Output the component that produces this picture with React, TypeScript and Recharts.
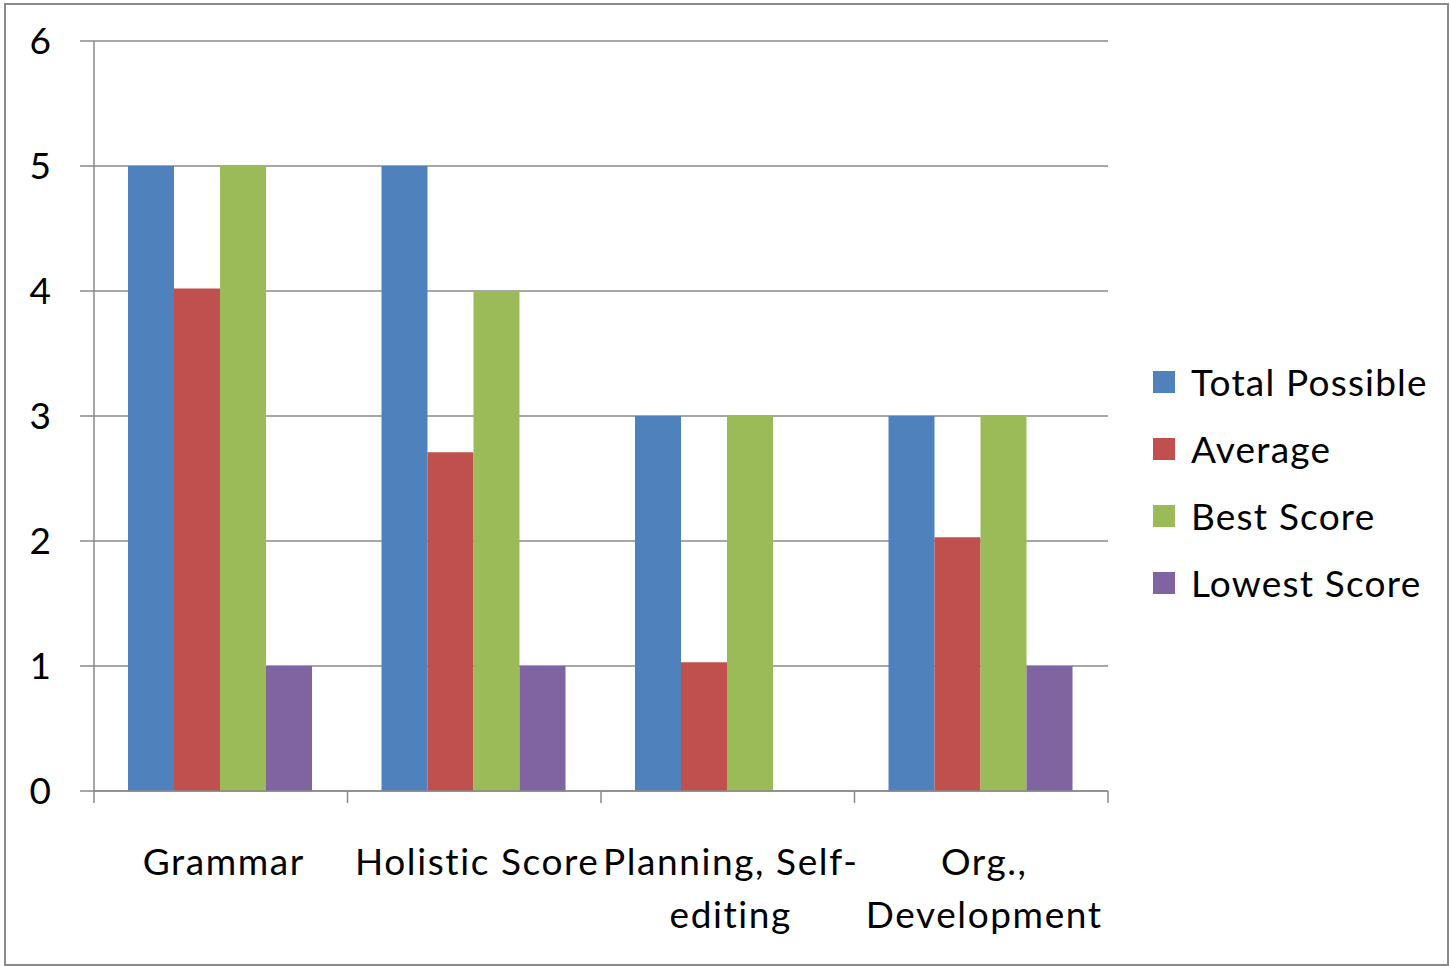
import React from 'react';
import { BarChart, Bar, XAxis, YAxis, CartesianGrid } from 'recharts';

// Data
const categories = ['Grammar', 'Holistic Score', 'Planning, Self-editing', 'Org., Development'];
const categoryLines = [['Grammar'], ['Holistic Score'], ['Planning, Self-', 'editing'], ['Org.,', 'Development']];
const totalPossible = [5, 5, 3, 3];
const average = [4.02, 2.71, 1.03, 2.03];
const bestScore = [5, 4, 3, 3];
const lowestScore = [1, 1, 0, 1];
const yTicks = [0, 1, 2, 3, 4, 5, 6];

const series = [
  { key: 'total', name: 'Total Possible', color: '#4F81BD' },
  { key: 'avg', name: 'Average', color: '#C0504D' },
  { key: 'best', name: 'Best Score', color: '#9BBB59' },
  { key: 'low', name: 'Lowest Score', color: '#8064A2' },
];

const data = categories.map((name, i) => ({
  name,
  total: totalPossible[i],
  avg: average[i],
  best: bestScore[i],
  low: lowestScore[i],
}));

const FONT = 'Lato, "Open Sans", sans-serif';
const GRID = '#8a8a8a';
const W = 1450;
const H = 966;
const margin = { top: 41, right: 342, bottom: 0, left: 0 };
const Y_W = 94;
const X_H = 175;
const band = (W - margin.right - Y_W) / categories.length;

const CategoryTick = (props: any) => {
  const { x, y, index } = props;
  const lines = categoryLines[index] || [];
  const left = x - band / 2;
  const right = x + band / 2;
  return (
    <g>
      <line x1={left} x2={left} y1={y - 12} y2={y} stroke={GRID} strokeWidth={1.5} />
      {index === categories.length - 1 && (
        <line x1={right} x2={right} y1={y - 12} y2={y} stroke={GRID} strokeWidth={1.5} />
      )}
      {lines.map((l, i) => (
        <text
          key={i}
          x={x + 3}
          y={y + 72 + i * 53}
          textAnchor="middle"
          fill="#000"
          fontSize={37}
          letterSpacing={1.6}
          fontFamily={FONT}
        >
          {l}
        </text>
      ))}
    </g>
  );
};

export default function App() {
  return (
    <div style={{ position: 'absolute', left: 0, top: 0, width: W, height: H, background: '#fff', fontFamily: FONT }}>
      <div style={{ position: 'absolute', left: 4, top: 3, width: 1441, height: 959, border: `2px solid ${GRID}` }} />
      <BarChart width={W} height={H} data={data} margin={margin} barCategoryGap={34} barGap={0}>
        <CartesianGrid vertical={false} stroke={GRID} strokeWidth={1.5} />
        <XAxis
          dataKey="name"
          height={X_H}
          interval={0}
          tickLine={false}
          tickSize={12}
          tickMargin={0}
          axisLine={{ stroke: GRID, strokeWidth: 1.5 }}
          tick={<CategoryTick />}
        />
        <YAxis
          width={Y_W}
          domain={[0, 6]}
          ticks={yTicks}
          interval={0}
          tickSize={14}
          tickMargin={29}
          axisLine={{ stroke: GRID, strokeWidth: 1.5 }}
          tickLine={{ stroke: GRID, strokeWidth: 1.5 }}
          tick={{ fill: '#000', fontSize: 37, fontFamily: FONT }}
        />
        {series.map((s) => (
          <Bar key={s.key} dataKey={s.key} name={s.name} fill={s.color} isAnimationActive={false} />
        ))}
      </BarChart>
      <div style={{ position: 'absolute', left: 1153, top: 348 }}>
        {series.map((s) => (
          <div key={s.key} style={{ display: 'flex', alignItems: 'center', height: 67 }}>
            <div style={{ width: 22, height: 22, background: s.color, marginRight: 16 }} />
            <span style={{ fontSize: 37, letterSpacing: 1.2, color: '#000', whiteSpace: 'nowrap' }}>{s.name}</span>
          </div>
        ))}
      </div>
    </div>
  );
}
